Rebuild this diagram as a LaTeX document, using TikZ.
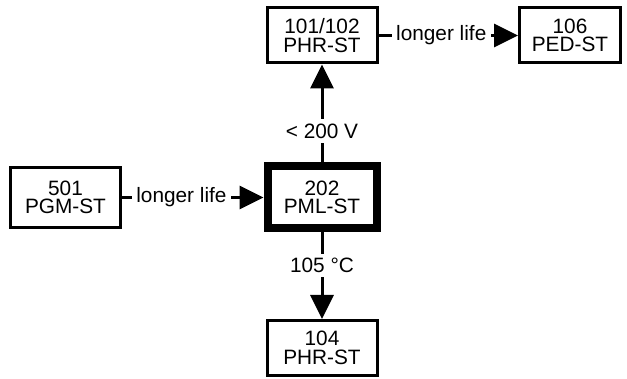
\documentclass[tikz,border=0pt]{standalone}
\usepackage{fontspec}
\setmainfont{Liberation Sans}
\usetikzlibrary{arrows.meta}

\tikzset{
  box/.style={draw, line width=1.5pt, minimum width=55pt, minimum height=27.5pt,
    align=center, inner sep=1pt, font=\fontsize{10.4}{9.2}\selectfont},
  mainbox/.style={box, line width=4pt, minimum width=54.5pt, minimum height=31pt},
  conn/.style={line width=1.5pt, -{Triangle[length=12pt,width=11.5pt]}},
  lbl/.style={fill=white, inner sep=2.2pt, font=\fontsize{10.4}{12}\selectfont}
}

\begin{document}
\begin{tikzpicture}[x=1pt,y=1pt]
    \useasboundingbox (0,0) rectangle (313.5,189.5);

    % Stationen
    \node[box, minimum height=30pt] (pgm) at (32.75,90.75) {501\\PGM-ST};
    \node[mainbox] (pml) at (161,90.75) {202\\PML-ST};
    \node[box] (phrtop) at (161,171.75) {101/102\\PHR-ST};
    \node[box, minimum width=50.5pt] (ped) at (285,171.75) {106\\PED-ST};
    \node[box] (phrbot) at (161,15.5) {104\\PHR-ST};

    % Übergänge
    \draw[conn] (pgm) -- node[lbl, pos=0.42] {longer life} (pml);
    \draw[conn] (phrtop) -- node[lbl, pos=0.45] {longer life} (ped);
    \draw[conn] (pml) -- node[lbl, pos=0.32] {< 200 V} (phrtop);
    \draw[conn] (pml) -- node[lbl, pos=0.38] {105 °C} (phrbot);
  \end{tikzpicture}
\end{document}
